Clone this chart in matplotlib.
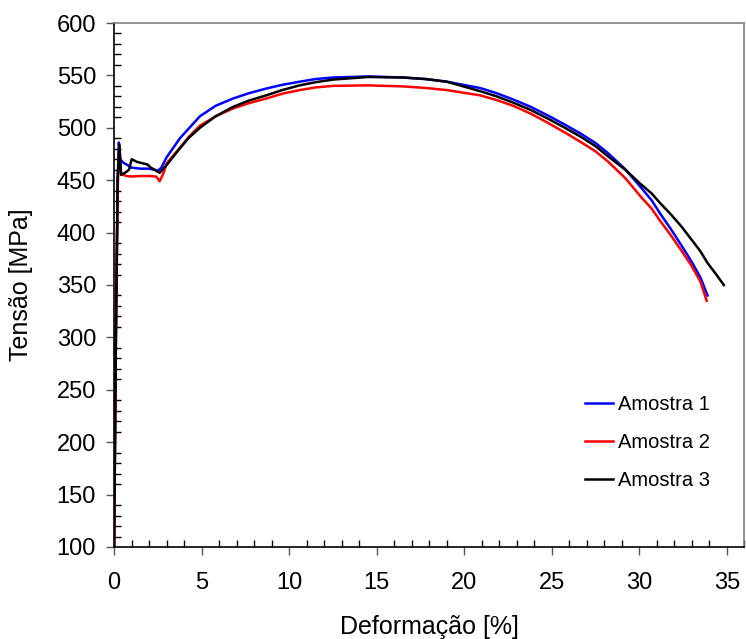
import matplotlib
matplotlib.use("Agg")
import matplotlib.pyplot as plt
from matplotlib.ticker import MultipleLocator

plt.rcParams['font.family'] = ['Liberation Sans', 'DejaVu Sans']

# Amostra 1 (azul)
def1 = [0, 0.1, 0.2, 0.27, 0.35, 0.5, 1.0, 1.5, 2.0, 2.3, 2.5, 2.7, 3.0, 3.76, 4.3, 4.9, 5.8, 6.8, 7.7,
        8.7, 9.6, 10.6, 11.5, 12.5, 14.5, 16.5, 17.8, 19.0, 20.9, 21.85, 22.8, 23.8, 24.75, 25.7,
        26.7, 27.5, 28.2, 29.2, 30.1, 30.7, 31.2, 31.8, 32.4, 33.0, 33.5, 33.9]
ten1 = [100, 300, 450, 486, 470, 467, 462, 461, 461, 460, 459, 462, 472, 490, 500, 511, 521, 528, 533,
        537.5, 541, 544, 546.5, 548, 549, 548, 546.5, 544, 538, 533, 527, 520, 512, 503.5,
        494, 485.5, 476, 460.5, 443, 431, 418, 403.5, 388, 372, 357, 340]

# Amostra 2 (vermelho)
def2 = [0, 0.1, 0.2, 0.27, 0.4, 0.7, 1.0, 1.5, 2.0, 2.4, 2.6, 2.8, 3.0, 3.76, 4.3, 4.9, 5.8, 6.8, 7.7,
        8.7, 9.6, 10.6, 11.5, 12.5, 14.5, 16.5, 17.8, 19.0, 20.9, 21.85, 22.8, 23.8, 24.75, 25.7,
        26.7, 27.5, 28.2, 29.2, 30.1, 30.7, 31.2, 31.8, 32.4, 33.0, 33.5, 33.85]
ten2 = [100, 300, 440, 478, 456, 454, 453.5, 454, 454, 453.5, 449, 456, 466, 481, 492, 502, 511, 518.5, 523.5,
        528, 532.5, 536, 538.5, 540, 540.5, 539.5, 538, 536, 531, 526.5, 521, 513.5, 505, 496,
        486, 477.5, 468, 452, 434, 423, 411, 397.5, 383, 368, 353, 335]

# Amostra 3 (preto)
def3 = [0, 0.1, 0.2, 0.3, 0.4, 0.7, 0.85, 1.0, 1.3, 1.9, 2.1, 2.5, 2.6, 3.0, 3.76, 4.3, 4.9, 5.8, 6.8, 7.7,
        8.7, 9.6, 10.6, 11.5, 12.5, 14.5, 16.5, 17.8, 19.0, 20.9, 21.85, 22.8, 23.8, 24.75, 25.7,
        26.7, 27.5, 28.2, 29.2, 30.1, 30.7, 31.2, 31.8, 32.4, 33.0, 33.5, 33.9, 34.4, 34.83]
ten3 = [100, 300, 450, 484, 455, 458, 460, 470, 467.5, 465, 462, 458, 457, 464.5, 480.5, 491, 500, 511, 520, 526,
        531, 536, 540.5, 543.5, 546, 548.5, 548, 546.5, 544, 535, 530, 524, 517, 509, 500.5,
        491, 482.5, 473, 460, 446, 437.5, 428, 417.5, 406, 393, 382, 371, 360, 350]

fig = plt.figure(figsize=(7.46, 6.39), dpi=100)
ax = fig.add_axes([0.153, 0.144, 0.8447, 0.82])

ax.plot(def1, ten1, color='#0000ff', lw=1.8, label='Amostra 1')
ax.plot(def2, ten2, color='#ff0000', lw=1.8, label='Amostra 2')
ax.plot(def3, ten3, color='black', lw=1.8, label='Amostra 3')

ax.set_xlim(0, 36)
ax.set_ylim(100, 600)
ax.set_xticks(range(0, 36, 5))
ax.set_yticks(range(100, 601, 50))
ax.xaxis.set_minor_locator(MultipleLocator(1))
ax.yaxis.set_minor_locator(MultipleLocator(10))
ax.tick_params(which='major', direction='out', length=6, width=1, color='#555555',
               labelsize=17, top=False, right=False)
ax.tick_params(axis='x', which='major', pad=12)
ax.tick_params(axis='y', which='major', pad=7)
ax.tick_params(which='minor', direction='in', length=5, width=1, color='black',
               top=False, right=False)

for s in ['top', 'right']:
    ax.spines[s].set_color('#808080')
    ax.spines[s].set_linewidth(1.2)
for s in ['left', 'bottom']:
    ax.spines[s].set_color('black')
    ax.spines[s].set_linewidth(1.2)

ax.set_xlabel('Deformação [%]', fontsize=18, labelpad=15)
ax.set_ylabel('Tensão [MPa]', fontsize=18, labelpad=17)

ax.legend(loc='upper left', bbox_to_anchor=(0.748, 0.29), frameon=False, fontsize=14.5,
          handlelength=1.35, handletextpad=0.25, labelspacing=0.95,
          borderpad=0, borderaxespad=0)

fig.savefig('out.png', dpi=100)
